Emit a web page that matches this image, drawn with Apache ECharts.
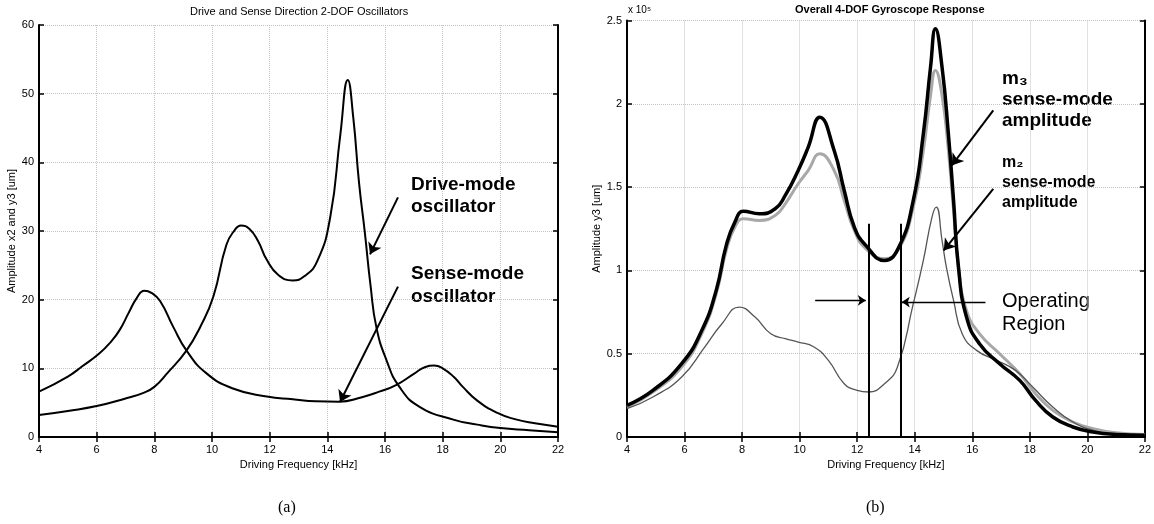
<!DOCTYPE html>
<html>
<head>
<meta charset="utf-8">
<script src="https://cdn.jsdelivr.net/npm/echarts@6/dist/echarts.min.js"></script>
<style>
  html, body { margin: 0; padding: 0; background: #fff; }
  #main { width: 1154px; height: 524px; }
</style>
</head>
<body>
<div id="main"></div>
<script>
// (a) drive / sense direction 2-DOF oscillators
var driveFreq = [4, 5, 6, 7, 7.6, 8, 8.45, 9.1, 9.6, 10.05, 10.5, 10.8, 11.0, 11.3, 11.6, 11.9, 12.3, 12.8, 13.2, 13.65, 14.1, 14.45, 14.71, 14.9, 15.1, 15.3, 15.5, 15.7, 16.05, 16.5, 17.2, 18.4, 19.2, 20, 21, 22];
var driveAmp = [3.2, 3.8, 4.5, 5.6, 6.4, 7.3, 9.3, 12.5, 16.1, 20.5, 28, 30.2, 30.8, 30.3, 28.5, 25.8, 23.6, 22.8, 23.4, 25.6, 32, 44, 52, 46.5, 37, 29.8, 22, 16, 11.2, 7.3, 4.4, 2.5, 1.8, 1.3, 1.0, 0.7];

var senseFreq = [4, 5, 5.5, 6.1, 6.5, 6.8, 7.1, 7.4, 7.65, 7.9, 8.2, 8.66, 9.13, 9.8, 10.7, 11.9, 12.8, 13.6, 14.4, 15.2, 15.8, 16.4, 17.0, 17.4, 17.7, 18.0, 18.4, 18.7, 19.2, 19.9, 20.5, 21.2, 22];
var senseAmp = [6.6, 8.8, 10.3, 12.2, 13.9, 15.6, 18.0, 20.3, 21.3, 21.0, 19.8, 16.0, 12.5, 9.3, 7.1, 5.9, 5.5, 5.2, 5.15, 5.8, 6.6, 7.6, 9.2, 10.2, 10.4, 10.0, 8.7, 7.3, 5.3, 3.5, 2.6, 2.0, 1.5];

// (b) overall 4-DOF response, units of 1e5 as on the axis
var m3Freq = [4, 4.9, 5.9, 6.6, 7.1, 7.45, 7.75, 8.05, 8.6, 9.15, 9.5, 9.95, 10.3, 10.7, 11.2, 11.55, 11.9, 12.3, 12.95, 13.45, 13.95, 14.3, 14.55, 14.72, 14.95, 15.17, 15.35, 15.52, 15.8, 16.25, 16.95, 17.65, 18.2, 18.8, 19.5, 20.2, 21, 22];
var m3Amp = [0.19, 0.28, 0.44, 0.64, 0.88, 1.15, 1.29, 1.355, 1.34, 1.37, 1.45, 1.60, 1.74, 1.92, 1.72, 1.48, 1.26, 1.15, 1.06, 1.14, 1.42, 1.82, 2.22, 2.45, 2.22, 1.82, 1.42, 1.02, 0.72, 0.56, 0.44, 0.34, 0.22, 0.12, 0.06, 0.03, 0.015, 0.01];
var m3LowAmp = [0.18, 0.27, 0.42, 0.62, 0.86, 1.12, 1.26, 1.31, 1.30, 1.33, 1.40, 1.52, 1.60, 1.70, 1.60, 1.42, 1.24, 1.13, 1.07, 1.13, 1.38, 1.72, 2.05, 2.20, 2.05, 1.72, 1.36, 1.02, 0.76, 0.62, 0.50, 0.38, 0.26, 0.16, 0.09, 0.05, 0.025, 0.015];

var m2Freq = [4, 4.9, 5.9, 6.7, 7.3, 7.9, 8.45, 9.0, 9.5, 9.95, 10.5, 11.0, 11.55, 12.0, 12.4, 12.95, 13.4, 13.95, 14.3, 14.6, 14.75, 14.95, 15.1, 15.35, 15.65, 16.15, 16.85, 17.5, 18.1, 18.8, 19.5, 20.2, 21, 22];
var m2Amp = [0.17, 0.24, 0.36, 0.54, 0.68, 0.78, 0.72, 0.62, 0.59, 0.57, 0.54, 0.46, 0.32, 0.28, 0.27, 0.32, 0.42, 0.80, 1.06, 1.32, 1.38, 1.18, 1.02, 0.82, 0.62, 0.52, 0.46, 0.40, 0.30, 0.18, 0.09, 0.04, 0.015, 0.01];

// operating region bounds (kHz) and line height
var opRegion = [12.4, 13.5];
var opTop = 1.28;

// annotation arrows [from, to] in data units
var arrowsA = [
    [[16.45, 34.9], [15.48, 26.6]],
    [[16.45, 21.9], [14.44, 5.1]]
];
var arrowsB = [
    [[16.73, 1.96], [15.29, 1.63]],
    [[16.73, 1.49], [15.01, 1.12]]
];
var arrowsOp = [
    [[10.54, 0.82], [12.3, 0.82]],
    [[16.46, 0.81], [13.55, 0.81]]
];

var FONT = '"Liberation Sans", Arial, sans-serif';

function zip(xs, ys) {
    var out = [];
    for (var i = 0; i < xs.length; i++) out.push([xs[i], ys[i]]);
    return out;
}

function bottomX(gi) {
    return {
        gridIndex: gi, type: 'value', min: 4, max: 22, interval: 2,
        name: 'Driving Frequency [kHz]', nameLocation: 'middle', nameGap: 22,
        nameTextStyle: { fontFamily: FONT, fontSize: 11, color: '#000' },
        axisLine: { lineStyle: { color: '#000', width: 2 } },
        axisTick: { inside: true, length: 5, lineStyle: { color: '#000', width: 1.5 } },
        axisLabel: { fontFamily: FONT, fontSize: 11, color: '#000', margin: 7 },
        splitLine: { show: true, lineStyle: { color: '#c4c4c4', type: 'dotted', width: 1 } }
    };
}
function topX(gi) {
    return {
        gridIndex: gi, type: 'value', min: 4, max: 22, interval: 2, position: 'top',
        axisLine: { lineStyle: { color: '#000', width: 2 } },
        axisTick: { inside: true, length: 5, lineStyle: { color: '#000', width: 1.5 } },
        axisLabel: { show: false }, splitLine: { show: false }
    };
}
function leftY(gi, max, interval, name, gap) {
    return {
        gridIndex: gi, type: 'value', min: 0, max: max, interval: interval,
        name: name, nameLocation: 'middle', nameGap: gap,
        nameTextStyle: { fontFamily: FONT, fontSize: 11, color: '#000' },
        axisLine: { show: true, lineStyle: { color: '#000', width: 2 } },
        axisTick: { show: true, inside: true, length: 5, lineStyle: { color: '#000', width: 1.5 } },
        axisLabel: { fontFamily: FONT, fontSize: 11, color: '#000', margin: 5 },
        splitLine: { show: true, lineStyle: { color: '#c4c4c4', type: 'dotted', width: 1 } }
    };
}
function rightY(gi, max, interval) {
    return {
        gridIndex: gi, type: 'value', min: 0, max: max, interval: interval, position: 'right',
        axisLine: { show: true, lineStyle: { color: '#000', width: 2 } },
        axisTick: { show: true, inside: true, length: 5, lineStyle: { color: '#000', width: 1.5 } },
        axisLabel: { show: false }, splitLine: { show: false }
    };
}

function curve(ax, data, color, width, z) {
    return {
        type: 'line', xAxisIndex: ax, yAxisIndex: ax, data: data,
        smooth: 0.5, showSymbol: false, silent: true,
        lineStyle: { color: color, width: width }, z: z || 2
    };
}
function arrowSeries(ax, list, width, size) {
    return {
        type: 'lines', coordinateSystem: 'cartesian2d', xAxisIndex: ax, yAxisIndex: ax,
        symbol: ['none', 'arrow'], symbolSize: size, silent: true,
        lineStyle: { color: '#000', width: width, opacity: 1, curveness: 0 },
        data: list.map(function (a) { return { coords: a }; }), z: 5
    };
}

var opLines = opRegion.map(function (f) { return { coords: [[f, 0], [f, opTop]] }; });

var option = {
    animation: false,
    backgroundColor: '#fff',
    grid: [
        { left: 39, top: 25, width: 519, height: 412 },
        { left: 627, top: 20.5, width: 523, height: 416.5 }
    ],
    xAxis: [bottomX(0), bottomX(1), topX(0), topX(1)],
    yAxis: [
        leftY(0, 60, 10, 'Amplitude x2 and y3 [um]', 20),
        leftY(1, 2.5, 0.5, 'Amplitude y3 [um]', 22),
        rightY(0, 60, 10),
        rightY(1, 2.5, 0.5)
    ],
    series: [
        curve(0, zip(driveFreq, driveAmp), '#000', 2),
        curve(0, zip(senseFreq, senseAmp), '#000', 2),
        curve(1, zip(m3Freq, m3LowAmp), '#a8a8a8', 3, 1),
        curve(1, zip(m2Freq, m2Amp), '#555', 1.3, 2),
        curve(1, zip(m3Freq, m3Amp), '#000', 3.5, 3),
        arrowSeries(0, arrowsA, 2, 11),
        arrowSeries(1, arrowsB, 2, 11),
        arrowSeries(1, arrowsOp, 1.3, 8),
        {
            type: 'lines', coordinateSystem: 'cartesian2d', xAxisIndex: 1, yAxisIndex: 1,
            symbol: 'none', silent: true,
            lineStyle: { color: '#000', width: 2, opacity: 1 },
            data: opLines, z: 4
        }
    ],
    graphic: [
        { type: 'text', left: 190, top: 6, style: { text: 'Drive and Sense Direction 2-DOF Oscillators', font: '11px ' + FONT, fill: '#000' } },
        { type: 'text', left: 795, top: 4, style: { text: 'Overall 4-DOF Gyroscope Response', font: 'bold 11px ' + FONT, fill: '#000' } },
        { type: 'text', left: 628, top: 5, style: { text: 'x 10\u2075', font: '10px ' + FONT, fill: '#000' } },
        { type: 'text', left: 411, top: 174, style: { text: 'Drive-mode\noscillator', font: 'bold 19px ' + FONT, lineHeight: 22, fill: '#000' } },
        { type: 'text', left: 411, top: 262, style: { text: 'Sense-mode\noscillator', font: 'bold 19px ' + FONT, lineHeight: 23, fill: '#000' } },
        { type: 'text', left: 1002, top: 68, style: { text: 'm\u2083\nsense-mode\namplitude', font: 'bold 19px ' + FONT, lineHeight: 21, fill: '#000' } },
        { type: 'text', left: 1002, top: 153, style: { text: 'm\u2082\nsense-mode\namplitude', font: 'bold 16px ' + FONT, lineHeight: 20, fill: '#000' } },
        { type: 'text', left: 1002, top: 290, style: { text: 'Operating\nRegion', font: '20px ' + FONT, lineHeight: 23, fill: '#000' } },
        { type: 'text', left: 278, top: 500, style: { text: '(a)', font: '16px "Liberation Serif", "Times New Roman", serif', fill: '#000' } },
        { type: 'text', left: 866, top: 500, style: { text: '(b)', font: '16px "Liberation Serif", "Times New Roman", serif', fill: '#000' } }
    ]
};

var chart = echarts.init(document.getElementById('main'), null, { renderer: 'canvas' });
chart.setOption(option);
</script>
</body>
</html>
